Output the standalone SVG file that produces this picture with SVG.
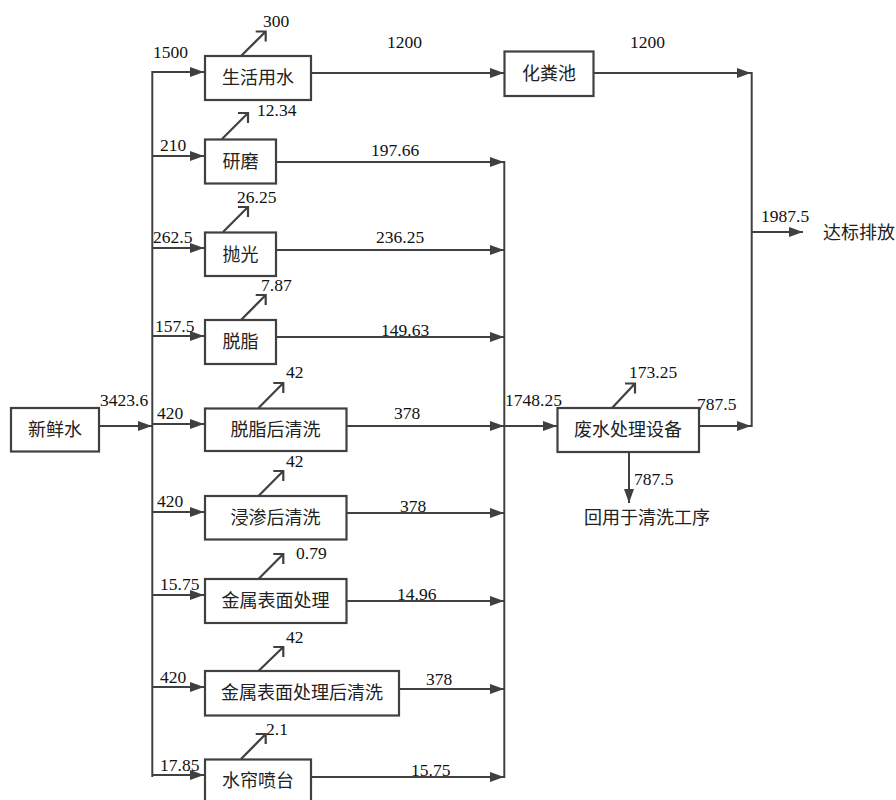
<svg xmlns="http://www.w3.org/2000/svg" width="896" height="800" viewBox="0 0 896 800">
<defs>
<marker id="ah" markerWidth="14" markerHeight="10" refX="14" refY="5" orient="auto" markerUnits="userSpaceOnUse">
<path d="M0,0 L14,5 L0,10 Z" fill="#404040"/>
</marker>
<style>
.box{fill:#fff;stroke:#404040;stroke-width:2.2}
.ln{fill:none;stroke:#404040;stroke-width:2}
.ar{fill:none;stroke:#404040;stroke-width:2;marker-end:url(#ah)}
.ev{fill:none;stroke:#404040;stroke-width:2.2}
.cn{font-family:'Noto Sans CJK SC','Noto Sans CJK JP',sans-serif;font-size:18px;fill:#222;text-anchor:middle}
</style>
</defs>
<rect width="896" height="800" fill="#fff"/>

<g id="connectors">
<line class="ar" x1="99" y1="426" x2="152" y2="426"/>
<polyline class="ln" points="204,72 152.3,72 152.3,777"/>
<line class="ar" x1="152" y1="72" x2="204" y2="72"/>
<line class="ar" x1="152" y1="156" x2="204" y2="156"/>
<line class="ar" x1="152" y1="248" x2="204" y2="248"/>
<line class="ar" x1="152" y1="336" x2="204" y2="336"/>
<line class="ar" x1="152" y1="424" x2="204" y2="424"/>
<line class="ar" x1="152" y1="512" x2="204" y2="512"/>
<line class="ar" x1="152" y1="595" x2="204" y2="595"/>
<line class="ar" x1="152" y1="687" x2="204" y2="687"/>
<line class="ar" x1="152" y1="775" x2="204" y2="775"/>
<line class="ar" x1="311" y1="73" x2="504" y2="73"/>
<line class="ar" x1="276" y1="162" x2="504" y2="162"/>
<line class="ar" x1="276" y1="250" x2="504" y2="250"/>
<line class="ar" x1="276" y1="337" x2="504" y2="337"/>
<line class="ar" x1="346" y1="426" x2="504" y2="426"/>
<line class="ar" x1="346" y1="513" x2="504" y2="513"/>
<line class="ar" x1="346" y1="601" x2="504" y2="601"/>
<line class="ar" x1="399" y1="689" x2="504" y2="689"/>
<line class="ar" x1="311" y1="777" x2="504" y2="777"/>
<line class="ln" x1="504.3" y1="161" x2="504.3" y2="778"/>
<line class="ar" x1="504" y1="426" x2="557" y2="426"/>
<line class="ar" x1="593" y1="73" x2="751" y2="73"/>
<line class="ar" x1="699" y1="426" x2="751" y2="426"/>
<line class="ln" x1="751.7" y1="72" x2="751.7" y2="427"/>
<line class="ar" x1="751" y1="232" x2="803" y2="232"/>
<line class="ar" x1="629" y1="452" x2="629" y2="503"/>
<path class="ev" d="M241,56 L265.7,31.5 M255.7,31.5 H265.7 V41.5"/>
<path class="ev" d="M222,139 L248,113 M238,113 H248 V123"/>
<path class="ev" d="M223,232 L248,207 M238,207 H248 V217"/>
<path class="ev" d="M241,320 L265.7,295 M255.7,295 H265.7 V305"/>
<path class="ev" d="M258.5,408 L283.3,383 M273.3,383 H283.3 V393"/>
<path class="ev" d="M258.5,496 L283.3,471 M273.3,471 H283.3 V481"/>
<path class="ev" d="M258.5,579 L283.3,554 M273.3,554 H283.3 V564"/>
<path class="ev" d="M258.5,671 L283.3,647 M273.3,647 H283.3 V657"/>
<path class="ev" d="M241,759 L265.7,734 M255.7,734 H265.7 V744"/>
<path class="ev" d="M612,408 L635,383.5 M625,383.5 H635 V393.5"/>
</g>

<g id="n-fresh"><rect class="box" x="11" y="408" width="88" height="43.5"/><text class="cn" x="55" y="436">新鲜水</text></g>
<g id="n-life"><rect class="box" x="205" y="56" width="106" height="44"/><text class="cn" x="258" y="84">生活用水</text></g>
<g id="n-grind"><rect class="box" x="205" y="139.5" width="71" height="44"/><text class="cn" x="240.5" y="168">研磨</text></g>
<g id="n-polish"><rect class="box" x="205" y="232.5" width="71" height="43.5"/><text class="cn" x="240.5" y="261">抛光</text></g>
<g id="n-degrease"><rect class="box" x="205" y="320" width="71" height="44"/><text class="cn" x="240.5" y="348">脱脂</text></g>
<g id="n-degrease-rinse"><rect class="box" x="205" y="408.5" width="141.5" height="42.5"/><text class="cn" x="275.5" y="436">脱脂后清洗</text></g>
<g id="n-impreg-rinse"><rect class="box" x="205" y="496" width="141.5" height="43.5"/><text class="cn" x="275.5" y="524">浸渗后清洗</text></g>
<g id="n-metal"><rect class="box" x="205" y="579" width="141.5" height="44"/><text class="cn" x="275.5" y="607">金属表面处理</text></g>
<g id="n-metal-rinse"><rect class="box" x="205" y="671" width="194" height="44.5"/><text class="cn" x="302" y="699">金属表面处理后清洗</text></g>
<g id="n-curtain"><rect class="box" x="205" y="759.5" width="106" height="44"/><text class="cn" x="258" y="787">水帘喷台</text></g>
<g id="n-septic"><rect class="box" x="504.5" y="51.5" width="89" height="44.5"/><text class="cn" x="549" y="80">化粪池</text></g>
<g id="n-wwt"><rect class="box" x="557.5" y="408" width="141.5" height="44"/><text class="cn" x="628" y="436">废水处理设备</text></g>
<g id="n-discharge"><text class="cn" x="859" y="239">达标排放</text></g>
<g id="n-reuse"><text class="cn" x="647" y="524">回用于清洗工序</text></g>

<g id="labels" font-family="Liberation Serif, Times New Roman, serif" font-size="17.5" fill="#111">
<text x="263" y="27">300</text>
<text x="153" y="58">1500</text>
<text x="387" y="48">1200</text>
<text x="630" y="48">1200</text>
<text x="257" y="116">12.34</text>
<text x="160" y="151">210</text>
<text x="371" y="156">197.66</text>
<text x="237" y="203">26.25</text>
<text x="153" y="243">262.5</text>
<text x="376" y="243">236.25</text>
<text x="261" y="291">7.87</text>
<text x="155" y="332">157.5</text>
<text x="381" y="336">149.63</text>
<text x="286" y="378">42</text>
<text x="100" y="406">3423.6</text>
<text x="157" y="419">420</text>
<text x="394" y="419">378</text>
<text x="505" y="406">1748.25</text>
<text x="629" y="378">173.25</text>
<text x="697" y="410">787.5</text>
<text x="634" y="485">787.5</text>
<text x="761" y="222">1987.5</text>
<text x="286" y="467">42</text>
<text x="157" y="507">420</text>
<text x="400" y="512">378</text>
<text x="296" y="559">0.79</text>
<text x="160" y="590">15.75</text>
<text x="397" y="600">14.96</text>
<text x="286" y="643">42</text>
<text x="160" y="683">420</text>
<text x="426" y="685">378</text>
<text x="266" y="735">2.1</text>
<text x="160" y="771">17.85</text>
<text x="411" y="776">15.75</text>
</g>
</svg>
